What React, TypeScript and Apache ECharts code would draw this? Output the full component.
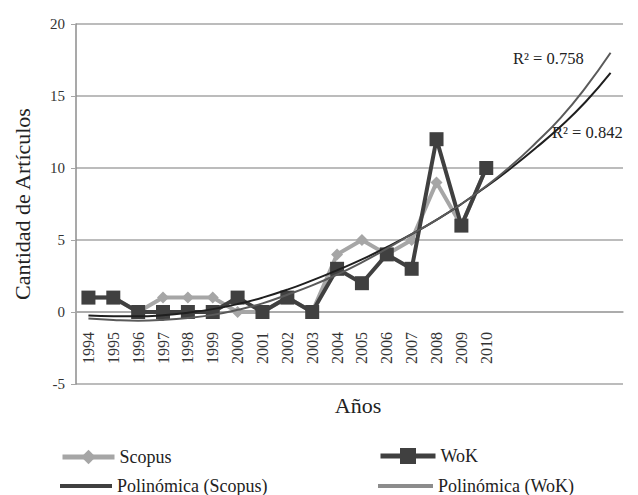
import React, { useEffect, useRef } from "react";
import * as echarts from "echarts";

const years = ["1994","1995","1996","1997","1998","1999","2000","2001","2002","2003","2004","2005","2006","2007","2008","2009","2010","2011","2012","2013","2014","2015"];
const lastLabeledYear = 2010;
const scopus = [1, 1, 0, 1, 1, 1, 0, 0, 1, 0, 4, 5, 4, 5, 9, 6, 10];
const wok = [1, 1, 0, 0, 0, 0, 1, 0, 1, 0, 3, 2, 4, 3, 12, 6, 10];
// trend lines (extend 5 periods forward)
const polyScopus = [-0.25, -0.3, -0.3, -0.22, -0.05, 0.2, 0.55, 1.0, 1.55, 2.2, 2.9, 3.65, 4.5, 5.4, 6.4, 7.5, 8.7, 10.0, 11.4, 12.9, 14.6, 16.6];
const polyWok = [-0.45, -0.55, -0.6, -0.55, -0.42, -0.2, 0.15, 0.6, 1.2, 1.85, 2.6, 3.45, 4.4, 5.4, 6.4, 7.5, 8.75, 10.15, 11.75, 13.5, 15.6, 18.0];
const r2Labels = ["R\u00b2 = 0.758", "R\u00b2 = 0.842"];
const yTicks = { min: -5, max: 20, interval: 5 };

const FONT = "'Liberation Serif', 'DejaVu Serif', serif";
const GRID = { left: 76, right: 15, top: 24, bottom: 111 };
const H = 495;

export default function App() {
  const ref = useRef<HTMLDivElement>(null);
  useEffect(() => {
    if (!ref.current) return;
    const chart = echarts.init(ref.current, undefined, { renderer: "svg" });
    const plotH = H - GRID.top - GRID.bottom;
    const zeroOffset = (plotH * (0 - yTicks.min)) / (yTicks.max - yTicks.min);
    const legendText = { fontSize: 18, color: "#222", fontFamily: FONT };
    chart.setOption({
      animation: false,
      backgroundColor: "#ffffff",
      textStyle: { fontFamily: FONT },
      grid: GRID,
      xAxis: {
        type: "category",
        data: years,
        boundaryGap: true,
        offset: -zeroOffset,
        axisLine: { show: true, onZero: false, lineStyle: { color: "#a6a6a6", width: 1.5 } },
        axisTick: { show: false },
        axisLabel: {
          rotate: 90,
          margin: 20,
          interval: 0,
          fontSize: 16,
          color: "#333",
          fontFamily: FONT,
          formatter: (v: string) => (Number(v) <= lastLabeledYear ? v : ""),
        },
        splitLine: { show: false },
      },
      yAxis: {
        type: "value",
        min: yTicks.min,
        max: yTicks.max,
        interval: yTicks.interval,
        name: "Cantidad de Artículos",
        nameLocation: "middle",
        nameGap: 43,
        nameTextStyle: { fontSize: 22, color: "#222", fontFamily: FONT },
        axisLine: { show: true, lineStyle: { color: "#8c8c8c", width: 1.5 } },
        axisTick: { show: true, length: 5, lineStyle: { color: "#a6a6a6" } },
        axisLabel: { fontSize: 15, color: "#333", margin: 11, fontFamily: FONT },
        splitLine: { show: true, lineStyle: { color: "#a6a6a6", width: 1.5 } },
      },
      legend: [
        {
          left: 60, top: 448, padding: 0, itemWidth: 52, itemHeight: 18,
          textStyle: legendText,
          data: [{ name: "Scopus", lineStyle: { width: 5 } }],
        },
        {
          left: 60, top: 477, padding: 0, itemWidth: 52, itemHeight: 4,
          textStyle: legendText,
          data: [{ name: "Polinómica (Scopus)", icon: "rect", itemStyle: { color: "#404040" } }],
        },
        {
          left: 378, top: 447, padding: 0, itemWidth: 55, itemHeight: 20,
          textStyle: legendText,
          data: [{ name: "WoK", lineStyle: { width: 5 } }],
        },
        {
          left: 378, top: 477, padding: 0, itemWidth: 55, itemHeight: 4,
          textStyle: legendText,
          data: [{ name: "Polinómica (WoK)", icon: "rect", itemStyle: { color: "#8c8c8c" } }],
        },
      ],
      series: [
        {
          name: "Scopus",
          type: "line",
          data: scopus,
          symbol: "diamond",
          symbolSize: 12,
          itemStyle: { color: "#a6a6a6" },
          lineStyle: { color: "#a6a6a6", width: 4 },
          z: 2,
        },
        {
          name: "WoK",
          type: "line",
          data: wok,
          symbol: "rect",
          symbolSize: 14,
          itemStyle: { color: "#404040" },
          lineStyle: { color: "#404040", width: 4 },
          z: 3,
        },
        {
          name: "Polinómica (Scopus)",
          type: "line",
          data: polyScopus,
          smooth: true,
          symbol: "none",
          itemStyle: { color: "#1f1f1f" },
          lineStyle: { color: "#1f1f1f", width: 2 },
          z: 4,
        },
        {
          name: "Polinómica (WoK)",
          type: "line",
          data: polyWok,
          smooth: true,
          symbol: "none",
          itemStyle: { color: "#5a5a5a" },
          lineStyle: { color: "#5a5a5a", width: 2 },
          z: 4,
        },
      ],
      graphic: [
        {
          type: "text",
          x: 358,
          y: 405,
          style: { text: "Años", fontSize: 22, fill: "#222", fontFamily: FONT, align: "center", verticalAlign: "middle" },
        },
        {
          type: "text",
          x: 513,
          y: 58,
          style: { text: r2Labels[0], fontSize: 16.5, fill: "#222", fontFamily: FONT, verticalAlign: "middle" },
        },
        {
          type: "text",
          x: 552,
          y: 132,
          style: { text: r2Labels[1], fontSize: 16.5, fill: "#222", fontFamily: FONT, verticalAlign: "middle" },
        },
      ],
    });
    return () => chart.dispose();
  }, []);
  return <div ref={ref} style={{ width: 638, height: 495, position: "absolute", left: 0, top: 0 }} />;
}
